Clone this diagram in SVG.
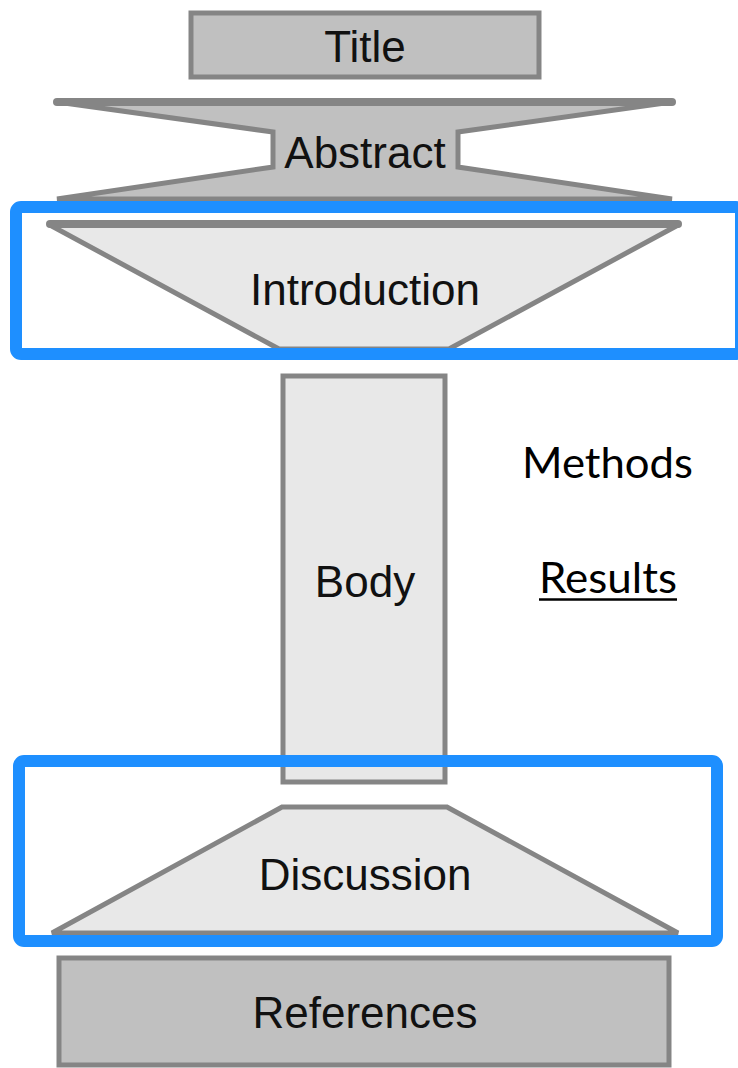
<svg xmlns="http://www.w3.org/2000/svg" width="738" height="1068" viewBox="0 0 738 1068">
<style>
.shape{stroke:#858585;stroke-width:5;stroke-linejoin:miter}
.dark{fill:#c0c0c0}
.light{fill:#e8e8e8}
.bar{stroke:#858585;stroke-width:8;stroke-linecap:round}
.lbl{font-family:"Liberation Sans",Arial,sans-serif;font-size:44px;fill:#111;text-anchor:middle}
.side{font-family:Lato,"Open Sans",sans-serif;font-size:42px;fill:#000}
.hl{fill:none;stroke:#1e8fff;stroke-width:12}
</style>
<rect width="738" height="1068" fill="#ffffff"/>
<g id="title">
<rect class="shape dark" x="191" y="13" width="348" height="64"/>
<text class="lbl" x="365" y="62">Title</text>
</g>
<g id="abstract">
<polygon class="shape dark" points="57,102 672,102 458,132 458,167 672,199 57,199 273,167 273,132"/>
<line class="bar" x1="57" y1="102" x2="672" y2="102"/>
<text class="lbl" x="365" y="168">Abstract</text>
</g>
<g id="introduction">
<polygon class="shape light" points="48,224 680,224 449,349 279,349"/>
<line class="bar" x1="50" y1="224" x2="678" y2="224"/>
<text class="lbl" x="365" y="305">Introduction</text>
</g>
<g id="body">
<rect class="shape light" x="283" y="376" width="162" height="406"/>
<text class="lbl" x="365" y="597">Body</text>
</g>
<g id="methods">
<text class="side" x="522" y="478" textLength="171" lengthAdjust="spacingAndGlyphs">Methods</text>
</g>
<g id="results">
<text class="side" x="539" y="593" textLength="138" lengthAdjust="spacingAndGlyphs">Results</text>
<line x1="539" y1="599.5" x2="677" y2="599.5" stroke="#000" stroke-width="2.5"/>
</g>
<g id="discussion">
<polygon class="shape light" points="282,807 447,807 678,933 52,933"/>
<text class="lbl" x="365" y="890">Discussion</text>
</g>
<g id="references">
<rect class="shape dark" x="59" y="958" width="610" height="107"/>
<text class="lbl" x="365" y="1028">References</text>
</g>
<g id="connectors">
<rect class="hl" x="16" y="207" width="725" height="147" rx="5"/>
<rect class="hl" x="19" y="761" width="698" height="180" rx="5"/>
</g>
</svg>
